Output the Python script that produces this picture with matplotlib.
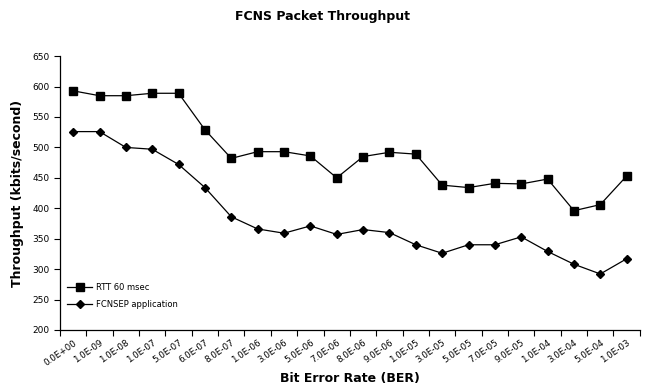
import numpy as np
from matplotlib import pyplot as plt

# BER 값별 처리량 (kbits/second)
ber_labels = ['0.0E+00', '1.0E-09', '1.0E-08', '1.0E-07', '5.0E-07', '6.0E-07',
              '8.0E-07', '1.0E-06', '3.0E-06', '5.0E-06', '7.0E-06', '8.0E-06',
              '9.0E-06', '1.0E-05', '3.0E-05', '5.0E-05', '7.0E-05', '9.0E-05',
              '1.0E-04', '3.0E-04', '5.0E-04', '1.0E-03']
rtt_60 = [593, 585, 585, 589, 589, 529, 482, 493, 493, 486, 450, 485,
          492, 489, 438, 434, 441, 440, 448, 396, 406, 453]
fcnsep = [526, 526, 500, 497, 472, 434, 386, 366, 359, 371, 357, 365,
          360, 340, 326, 340, 340, 353, 329, 308, 292, 317]

x = np.arange(len(ber_labels))

fig = plt.figure(figsize=(6.45, 3.9), dpi=100)
ax = fig.add_axes([0.093, 0.154, 0.899, 0.702])

ax.plot(x, rtt_60, color='black', lw=0.9, marker='s', markersize=5.5, label='RTT 60 msec')
ax.plot(x, fcnsep, color='black', lw=0.9, marker='D', markersize=4.5, label='FCNSEP application')

ax.set_xlim(-0.5, len(ber_labels) - 0.5)
ax.set_ylim(200, 650)
ax.set_yticks(np.arange(200, 651, 50))
ax.tick_params(axis='y', labelsize=6.5, length=4, direction='out', width=0.8)

# 눈금은 카테고리 경계, 라벨은 가운데
ax.set_xticks(np.arange(-0.5, len(ber_labels)), minor=False)
ax.set_xticklabels([])
ax.set_xticks(x, minor=True)
ax.set_xticklabels(ber_labels, minor=True, rotation=35, ha='right', rotation_mode='anchor', fontsize=6.3)
ax.tick_params(axis='x', which='major', length=4, width=0.8, direction='out')
ax.tick_params(axis='x', which='minor', length=0, pad=6)

for s in ['top', 'right']:
    ax.spines[s].set_visible(False)
for s in ['left', 'bottom']:
    ax.spines[s].set_linewidth(0.9)

ax.set_ylabel('Throughput (kbits/second)', fontsize=9, fontweight='bold', labelpad=6)
ax.set_xlabel('Bit Error Rate (BER)', fontsize=9, fontweight='bold', labelpad=3)
fig.suptitle('FCNS Packet Throughput', fontsize=9, fontweight='bold', y=0.975)

ax.legend(loc='lower left', bbox_to_anchor=(0.0, 0.05), frameon=False, fontsize=6,
          handlelength=3, labelspacing=0.9, handletextpad=0.4)

plt.savefig('out.png', dpi=100)
